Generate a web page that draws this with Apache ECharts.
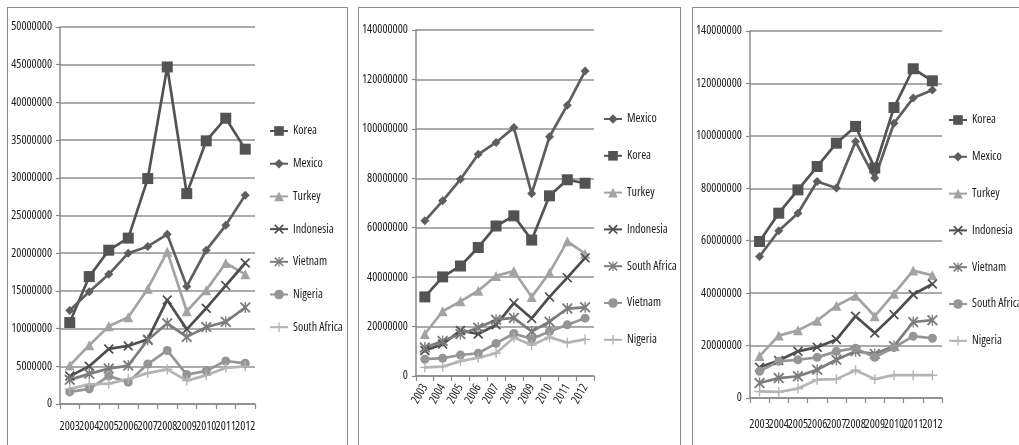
<!DOCTYPE html>
<html>
<head>
<meta charset="utf-8">
<script src="https://cdn.jsdelivr.net/npm/echarts@6/dist/echarts.min.js"></script>
<style>
  html, body { margin: 0; padding: 0; background: #ffffff; width: 1019px; height: 445px; overflow: hidden; }
  .panel { position: absolute; top: 7px; height: 445px; border: 1px solid #8a8a8a; border-bottom: none; box-sizing: border-box; background: #fff; }
  #p1 { left: 7px; width: 341px; }
  #p2 { left: 358px; width: 323px; }
  #p3 { left: 692px; width: 336px; }
</style>
</head>
<body>
<div id="p1" class="panel"></div>
<div id="p2" class="panel"></div>
<div id="p3" class="panel"></div>
<script>
// Years on the category axis
const years = ['2003', '2004', '2005', '2006', '2007', '2008', '2009', '2010', '2011', '2012'];

// Y-axis ranges
const axisMax1 = 50000000, axisStep1 = 5000000;
const axisMax23 = 140000000, axisStep23 = 20000000;

// Chart 1
const korea1       = [10800000, 16900000, 20400000, 22000000, 29900000, 44700000, 27900000, 34900000, 37900000, 33800000];
const mexico1      = [12400000, 14900000, 17200000, 20000000, 20900000, 22500000, 15600000, 20400000, 23700000, 27700000];
const turkey1      = [5100000, 7800000, 10300000, 11500000, 15300000, 20200000, 12300000, 15100000, 18700000, 17200000];
const indonesia1   = [3700000, 5000000, 7300000, 7700000, 8600000, 13800000, 9900000, 12700000, 15700000, 18700000];
const vietnam1     = [3200000, 4000000, 4700000, 5100000, 8500000, 10700000, 8900000, 10200000, 10900000, 12800000];
const nigeria1     = [1600000, 2000000, 3700000, 2900000, 5300000, 7100000, 3900000, 4400000, 5700000, 5400000];
const southAfrica1 = [2000000, 2600000, 2700000, 3300000, 4100000, 4600000, 3100000, 3800000, 4800000, 5000000];

// Chart 2
const mexico2      = [62800000, 70900000, 79600000, 89700000, 94500000, 100500000, 73800000, 96800000, 109600000, 123400000];
const korea2       = [32000000, 40100000, 44500000, 52000000, 60700000, 64800000, 55000000, 72900000, 79400000, 78000000];
const turkey2      = [17000000, 26200000, 30200000, 34500000, 40500000, 42500000, 32000000, 41800000, 54500000, 49500000];
const indonesia2   = [10300000, 12900000, 18400000, 17000000, 20700000, 29500000, 23300000, 32000000, 39800000, 47800000];
const southAfrica2 = [11500000, 14200000, 17000000, 19500000, 22800000, 23500000, 18000000, 22000000, 27300000, 27800000];
const vietnam2     = [6800000, 7200000, 8500000, 9200000, 13200000, 17200000, 15000000, 18000000, 20700000, 23400000];
const nigeria2     = [3500000, 3800000, 6000000, 7400000, 9200000, 15600000, 12500000, 15700000, 13500000, 14800000];

// Chart 3
const korea3       = [59700000, 70500000, 79400000, 88300000, 97200000, 103600000, 87700000, 110800000, 125600000, 121000000];
const mexico3      = [54000000, 63800000, 70500000, 82600000, 80100000, 97800000, 83900000, 104800000, 114400000, 117500000];
const turkey3      = [16000000, 23800000, 25800000, 29500000, 35200000, 39000000, 31200000, 39800000, 48600000, 46800000];
const indonesia3   = [11700000, 14300000, 17800000, 19400000, 22300000, 31200000, 24800000, 31800000, 39500000, 43500000];
const vietnam3     = [5700000, 7600000, 8300000, 10800000, 14600000, 17800000, 16800000, 19800000, 29000000, 29700000];
const southAfrica3 = [10200000, 14000000, 14600000, 15500000, 17800000, 19000000, 15500000, 19200000, 23600000, 22800000];
const nigeria3     = [2500000, 2300000, 3600000, 7000000, 7200000, 10600000, 7200000, 8700000, 8700000, 8700000];

// Narrow text: Open Sans with its condensed width
const TEXT = { fontFamily: '"Open Sans", sans-serif', fontStyle: 'normal', fontWeight: 'condensed', fontSize: 12, color: '#1c1c1c' };

// Stroked marker outlines as filled paths
const SYM_X = 'path://M0,1.2L1.2,0L5,3.8L8.8,0L10,1.2L6.2,5L10,8.8L8.8,10L5,6.2L1.2,10L0,8.8L3.8,5Z';
const SYM_STAR = 'path://M0,1.2L1.2,0L4.4,3.2V0H5.6V3.2L8.8,0L10,1.2L6.2,5L10,8.8L8.8,10L5.6,6.8V10H4.4V6.8L1.2,10L0,8.8L3.8,5Z';
const SYM_PLUS = 'path://M4.3,0H5.7V4.3H10V5.7H5.7V10H4.3V5.7H0V4.3H4.3Z';

// Marker styles by role
const STYLE = {
  square:   { color: '#535353', symbol: 'rect',     size: 11 },
  diamond:  { color: '#5e5e5e', symbol: 'diamond',  size: 9 },
  triangle: { color: '#a3a3a3', symbol: 'triangle', size: 10 },
  cross:    { color: '#4e4e4e', symbol: SYM_X,      size: 10 },
  star:     { color: '#7c7c7c', symbol: SYM_STAR,   size: 11 },
  circle:   { color: '#959595', symbol: 'circle',   size: 9 },
  plus:     { color: '#b4b4b4', symbol: SYM_PLUS,   size: 10 }
};

function makeSeries(name, data, styleKey) {
  const s = STYLE[styleKey];
  return {
    name: name,
    type: 'line',
    data: data,
    symbol: s.symbol,
    symbolSize: s.size,
    symbolKeepAspect: true,
    showAllSymbol: true,
    lineStyle: { color: s.color, width: 2.7 },
    itemStyle: { color: s.color, borderWidth: 0 },
    emphasis: { disabled: true },
    animation: false,
    z: 3
  };
}

function makeOption(cfg) {
  return {
    animation: false,
    textStyle: TEXT,
    grid: cfg.grid,
    xAxis: {
      type: 'category',
      data: years,
      boundaryGap: true,
      axisLine: { show: true, lineStyle: { color: '#8a8a8a', width: 1.5 } },
      axisTick: { show: true, length: 5, lineStyle: { color: '#8a8a8a', width: 1.2 } },
      axisLabel: Object.assign({
        interval: 0,
        rotate: cfg.rotate,
        margin: cfg.labelMargin
      }, TEXT),
      splitLine: { show: false }
    },
    yAxis: {
      type: 'value',
      min: 0,
      max: cfg.max,
      interval: cfg.step,
      axisLine: { show: true, lineStyle: { color: '#8a8a8a', width: 1.5 } },
      axisTick: { show: true, length: 4, lineStyle: { color: '#8a8a8a', width: 1.2 } },
      axisLabel: Object.assign({
        margin: 8,
        formatter: function (v) { return String(v); }
      }, TEXT),
      splitLine: { show: true, lineStyle: { color: '#8f8f8f', width: 1.6 } }
    },
    legend: {
      orient: 'vertical',
      left: cfg.legendLeft,
      top: cfg.legendTop,
      padding: 0,
      itemGap: cfg.legendGap,
      itemWidth: 18,
      itemHeight: 12,
      selectedMode: false,
      textStyle: TEXT,
      data: cfg.series.map(function (s) { return s.name; })
    },
    series: cfg.series
  };
}

const chart1 = echarts.init(document.getElementById('p1'), null, { renderer: 'canvas' });
chart1.setOption(makeOption({
  grid: { left: 52, top: 19, width: 195, height: 377 },
  max: axisMax1, step: axisStep1, rotate: 0, labelMargin: 17,
  legendLeft: 261, legendTop: 117, legendGap: 20.7,
  series: [
    makeSeries('Korea', korea1, 'square'),
    makeSeries('Mexico', mexico1, 'diamond'),
    makeSeries('Turkey', turkey1, 'triangle'),
    makeSeries('Indonesia', indonesia1, 'cross'),
    makeSeries('Vietnam', vietnam1, 'star'),
    makeSeries('Nigeria', nigeria1, 'circle'),
    makeSeries('South Africa', southAfrica1, 'plus')
  ]
}));

const chart2 = echarts.init(document.getElementById('p2'), null, { renderer: 'canvas' });
chart2.setOption(makeOption({
  grid: { left: 53, top: 22, width: 182, height: 346 },
  max: axisMax23, step: axisStep23, rotate: 60, labelMargin: 9,
  legendLeft: 244, legendTop: 105, legendGap: 24.8,
  series: [
    makeSeries('Mexico', mexico2, 'diamond'),
    makeSeries('Korea', korea2, 'square'),
    makeSeries('Turkey', turkey2, 'triangle'),
    makeSeries('Indonesia', indonesia2, 'cross'),
    makeSeries('South Africa', southAfrica2, 'star'),
    makeSeries('Vietnam', vietnam2, 'circle'),
    makeSeries('Nigeria', nigeria2, 'plus')
  ]
}));

const chart3 = echarts.init(document.getElementById('p3'), null, { renderer: 'canvas' });
chart3.setOption(makeOption({
  grid: { left: 52, top: 23, width: 197, height: 367 },
  max: axisMax23, step: axisStep23, rotate: 0, labelMargin: 21,
  legendLeft: 255, legendTop: 106, legendGap: 24.8,
  series: [
    makeSeries('Korea', korea3, 'square'),
    makeSeries('Mexico', mexico3, 'diamond'),
    makeSeries('Turkey', turkey3, 'triangle'),
    makeSeries('Indonesia', indonesia3, 'cross'),
    makeSeries('Vietnam', vietnam3, 'star'),
    makeSeries('South Africa', southAfrica3, 'circle'),
    makeSeries('Nigeria', nigeria3, 'plus')
  ]
}));
</script>
</body>
</html>
